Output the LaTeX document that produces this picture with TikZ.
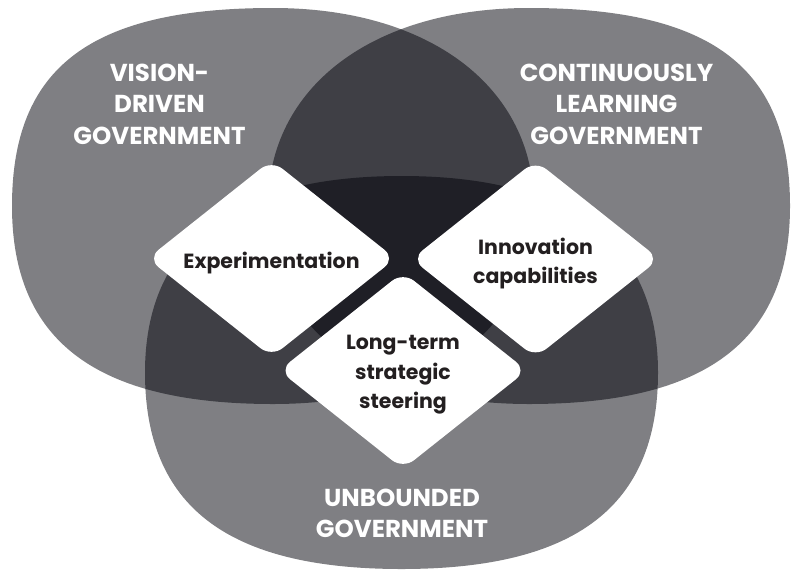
\documentclass[tikz,border=0pt]{standalone}
\usepackage{fontspec}
\setmainfont{Poppins}
\usetikzlibrary{shapes.geometric}

\definecolor{blobink}{RGB}{0,1,9}
\definecolor{inktext}{RGB}{35,31,32}

% #1,#2 centre; #3,#4 half width/height; #5..#8 corner tension (TL, TR, BR, BL)
\newcommand{\squircleblob}[8]{%
  \fill[blob] ({#1-#3},{#2})
    .. controls ({#1-#3},{#2-#5*#4}) and ({#1-#5*#3},{#2-#4}) .. ({#1},{#2-#4})
    .. controls ({#1+#6*#3},{#2-#4}) and ({#1+#3},{#2-#6*#4}) .. ({#1+#3},{#2})
    .. controls ({#1+#3},{#2+#7*#4}) and ({#1+#7*#3},{#2+#4}) .. ({#1},{#2+#4})
    .. controls ({#1-#8*#3},{#2+#4}) and ({#1-#3},{#2+#8*#4}) .. cycle;}

\tikzset{
  blob/.style={fill=blobink, fill opacity=0.5},
  circlelabel/.style={text=white, font=\bfseries\fontsize{24.5}{31.5}\selectfont, align=center},
  focus/.style={diamond, fill=white, draw=none, rounded corners=14pt,
    minimum width=248pt, minimum height=197pt, inner sep=0pt, aspect=1.26},
  focustext/.style={text=inktext, font=\bfseries\fontsize{20.5}{29.5}\selectfont, align=center},
}

\begin{document}
\begin{tikzpicture}[x=1pt,y=-1pt]
\useasboundingbox (0,0) rectangle (792,571);
\fill[white] (0,0) rectangle (792,571);

% the three overlapping fields
\squircleblob{273}{206}{261}{198}{.7}{.6}{.62}{.68}
\squircleblob{529}{206}{261}{198}{.6}{.7}{.68}{.62}
\squircleblob{401.5}{372.5}{256.5}{196.5}{.66}{.66}{.68}{.68}

% the three focus areas
\node[focus] (exp) at (271.5,258.5) {};
\node[focus] (inn) at (535.5,259) {};
\node[focus] (lts) at (403,370.5) {};
\node[focustext] (exptext) at ([yshift=-4.5pt]exp.center) {Experimentation};
\node[focustext] (inntext) at ([yshift=-4.5pt]inn.center) {Innovation\\capabilities};
\node[focustext] (ltstext) at ([yshift=-4.5pt]lts.center) {Long-term\\strategic\\steering};

% field titles
\node[circlelabel] (vis) at (159.5,104) {VISION-\\DRIVEN\\GOVERNMENT};
\node[circlelabel] (cont) at (616.5,104) {CONTINUOUSLY\\LEARNING\\GOVERNMENT};
\node[circlelabel] (unb) at (402,513.5) {UNBOUNDED\\GOVERNMENT};
\end{tikzpicture}
\end{document}
